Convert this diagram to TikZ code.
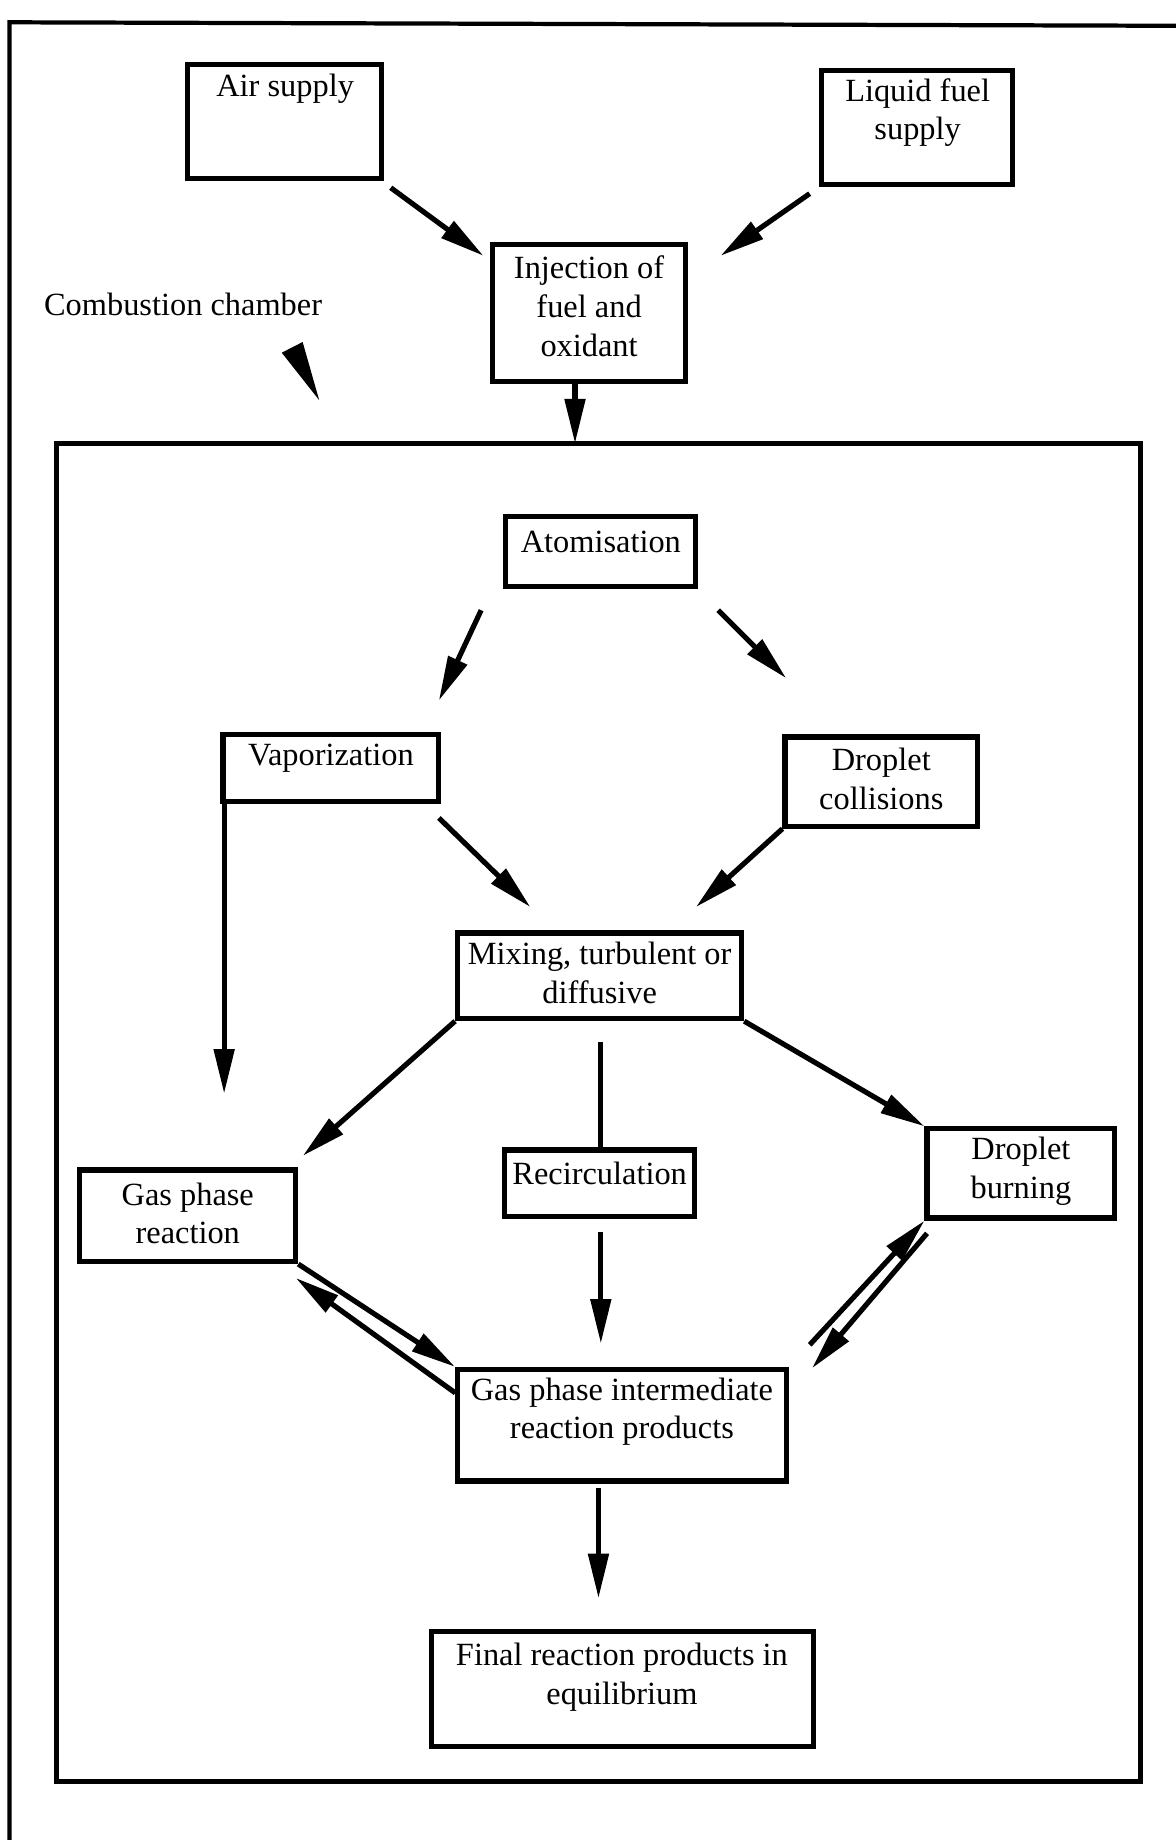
\documentclass[tikz,border=0pt]{standalone}
\usepackage{fontspec}
\setmainfont{Liberation Serif}
\usetikzlibrary{arrows.meta,fit,calc}
\begin{document}
\begin{tikzpicture}[x=0.5pt,y=-0.5pt,
  box/.style={draw,line width=2.2pt,inner sep=0pt},
  txt/.style={align=center,inner sep=0pt,font=\fontsize{13.8}{16.5}\selectfont},
  arr/.style={line width=2.2pt,-{Triangle[length=19pt,width=8.5pt]}},
  ln/.style={line width=2.2pt}]
\useasboundingbox (0,0) rectangle (1002,1568);
% outer frame (cropped by page)
\draw[line width=1.8pt] (8,1580) -- (8,19) -- (1010,22);
% boxes
\node[box,fit={(160,55) (325,152)}] (air) {};
\node[box,fit={(700,60) (863,157)}] (fuel) {};
\node[box,fit={(420,208) (584,325)}] (inj) {};
\node[box,line width=1.9pt,fit={(48,378) (972,1518)}] (inner) {};
\node[box,fit={(431,440) (593,500)}] (atom) {};
\node[box,fit={(190,626) (374,683)}] (vap) {};
\node[box,fit={(669,628) (833,704)}] (dcol) {};
\node[box,fit={(390,795) (632,868)}] (mix) {};
\node[box,fit={(430,980) (592,1037)}] (recirc) {};
\node[box,fit={(68,997) (252,1075)}] (gpr) {};
\node[box,fit={(790,962) (950,1038)}] (dburn) {};
\node[box,fit={(390,1167) (670,1262)}] (inter) {};
\node[box,fit={(368,1390) (693,1488)}] (final) {};
% texts
\node[txt] (airT) at (243,76) {Air supply};
\node[txt] (fuelT) at (782,96) {Liquid fuel\\supply};
\node[txt] (injT) at (502,261) {Injection of\\fuel and\\oxidant};
\node[txt] (combT) at (156,259) {Combustion chamber};
\node[txt] (atomT) at (512,462) {Atomisation};
\node[txt] (vapT) at (282,646) {Vaporization};
\node[txt] (dcolT) at (751,664) {Droplet\\collisions};
\node[txt] (mixT) at (511,829) {Mixing, turbulent or\\diffusive};
\node[txt] (recircT) at (511,1000) {Recirculation};
\node[txt] (gprT) at (160,1034) {Gas phase\\reaction};
\node[txt] (dburnT) at (870,998) {Droplet\\burning};
\node[txt] (interT) at (530,1203) {Gas phase intermediate\\reaction products};
\node[txt] (finalT) at (530,1429) {Final reaction products in\\equilibrium};
% connector end points
\coordinate (a1s) at (333,160); \coordinate (a1e) at (412,218);
\coordinate (a2s) at (690,165); \coordinate (a2e) at (614,218);
\coordinate (a3s) at (490,325); \coordinate (a3e) at (490,378);
\coordinate (c1) at (249,296);  \coordinate (c2) at (272,341);
\coordinate (a5s) at (410,520); \coordinate (a5e) at (374,597);
\coordinate (a6s) at (612,520); \coordinate (a6e) at (670,578);
\coordinate (a7s) at (374,697); \coordinate (a7e) at (452,773);
\coordinate (a8e) at (593,773);
\coordinate (a9e) at (191,932);
\coordinate (a10e) at (258,985);
\coordinate (a12s) at (512,888);
\coordinate (a13s) at (512,1050); \coordinate (a13e) at (512,1145);
\coordinate (a15s) at (388,1187); \coordinate (a15e) at (252,1089);
\coordinate (a16s) at (690,1146);
\coordinate (a17s) at (790,1051); \coordinate (a17e) at (692,1166);
\coordinate (a18s) at (510,1268); \coordinate (a18e) at (510,1362);
% connectors
\draw[arr] (a1s) -- (a1e);
\draw[arr] (a2s) -- (a2e);
\draw[arr] (a3s) -- (a3e);
\fill (c2) -- ($(c1)!5pt!90:(c2)$) -- ($(c1)!5pt!-90:(c2)$) -- cycle;
\draw[arr] (a5s) -- (a5e);
\draw[arr] (a6s) -- (a6e);
\draw[arr] (a7s) -- (a7e);
\draw[arr] (dcol.south west) -- (a8e);
\draw[arr] (vap.south west -| a9e) -- (a9e);
\draw[arr] (mix.south west) -- (a10e);
\draw[arr] (mix.south east) -- (dburn.north west);
\draw[ln] (a12s) -- (recirc.north -| a12s);
\draw[arr] (a13s) -- (a13e);
\draw[arr] (gpr.south east) -- (inter.north west);
\draw[arr] (a15s) -- (a15e);
\draw[arr] (a16s) -- (dburn.south west);
\draw[arr] (a17s) -- (a17e);
\draw[arr] (a18s) -- (a18e);
\end{tikzpicture}
\end{document}
